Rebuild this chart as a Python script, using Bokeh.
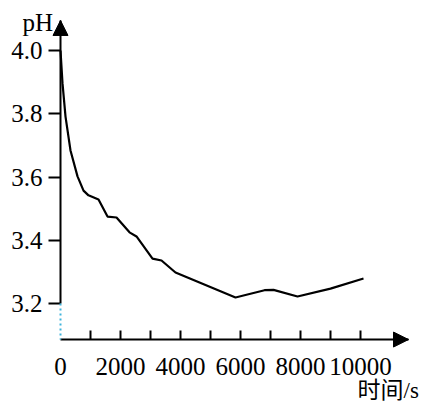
from bokeh.plotting import figure
from bokeh.models import FixedTicker, Arrow, NormalHead, Label, Range1d, LinearAxis
from bokeh.embed import file_html
from bokeh.resources import INLINE

# Data (time in s, pH)
time_s = [0, 67, 167, 333, 567, 767, 933, 1267, 1567, 1867, 2300, 2533,
          3067, 3367, 3833, 5833, 6800, 7100, 7900, 9000, 10100]
ph = [4.00, 3.896, 3.791, 3.684, 3.602, 3.557, 3.542, 3.529, 3.475, 3.472,
      3.425, 3.412, 3.342, 3.336, 3.298, 3.219, 3.242, 3.243, 3.222, 3.247, 3.279]

x_major = [0, 2000, 4000, 6000, 8000, 10000]
x_minor = [1000, 2000, 3000, 4000, 5000, 6000, 7000, 8000, 9000, 10000]
y_ticks = [3.2, 3.4, 3.6, 3.8, 4.0]
y_labels = ["3.2", "3.4", "3.6", "3.8", "4.0"]
x_label = "时间/s"
y_label = "pH"

X_VIEW = (-2000, 12333)
Y_VIEW = (2.8838, 4.1581)
X_AXIS_END = 11600
Y_AXIS_START = 3.086
Y_AXIS_END = 4.095

SERIF = "Liberation Serif"

p = figure(width=430, height=403, output_backend="svg", toolbar_location=None,
           x_range=Range1d(*X_VIEW), y_range=Range1d(*Y_VIEW),
           x_axis_location=None, y_axis_location=None,
           min_border_left=0, min_border_right=0, min_border_top=0,
           min_border_bottom=0)
p.outline_line_color = None
p.xgrid.visible = False
p.ygrid.visible = False
p.background_fill_color = "white"
p.border_fill_color = "white"

xa = LinearAxis(fixed_location=Y_AXIS_START, bounds=(0, X_AXIS_END))
xa.ticker = FixedTicker(ticks=x_major, minor_ticks=x_minor)
xa.major_tick_in = 0
xa.major_tick_out = 0
xa.minor_tick_in = 9
xa.minor_tick_out = 0
xa.minor_tick_line_width = 2
xa.minor_tick_line_color = "black"
xa.axis_line_width = 2
xa.axis_line_color = "black"
xa.major_label_text_font = SERIF
xa.major_label_text_font_size = "25px"
xa.major_label_text_color = "black"
xa.major_label_standoff = 18
xa.major_label_overrides = {v: str(v) for v in x_major}
p.add_layout(xa, "below")

ya = LinearAxis(fixed_location=0, bounds=(y_ticks[0], Y_AXIS_END))
ya.ticker = FixedTicker(ticks=y_ticks, minor_ticks=[])
ya.major_tick_in = 0
ya.major_tick_out = 12
ya.major_tick_line_width = 2
ya.major_tick_line_color = "black"
ya.axis_line_width = 2
ya.axis_line_color = "black"
ya.major_label_text_font = SERIF
ya.major_label_text_font_size = "25px"
ya.major_label_text_color = "black"
ya.major_label_standoff = 6
ya.major_label_overrides = {t: l for t, l in zip(y_ticks, y_labels)}
p.add_layout(ya, "left")

p.line(time_s, ph, line_color="black", line_width=2.2)

p.add_layout(Arrow(x_start=0, y_start=y_ticks[0], x_end=0, y_end=Y_AXIS_START, end=None,
                   line_color="#3fb4dc", line_width=2, line_dash="2 3"))
p.add_layout(Arrow(x_start=X_AXIS_END - 300, y_start=Y_AXIS_START, x_end=X_AXIS_END,
                   y_end=Y_AXIS_START,
                   end=NormalHead(size=15, fill_color="black", line_color="black"),
                   line_color="black", line_width=2))
p.add_layout(Arrow(x_start=0, y_start=Y_AXIS_END - 0.02, x_end=0, y_end=Y_AXIS_END,
                   end=NormalHead(size=15, fill_color="black", line_color="black"),
                   line_color="black", line_width=2))

p.add_layout(Label(x=-1267, y=4.090, text=y_label, text_font=SERIF,
                   text_font_size="25px", text_color="black",
                   text_baseline="alphabetic", text_align="left"))
p.add_layout(Label(x=9900, y=2.925, text=x_label,
                   text_font="Liberation Serif, Noto Sans CJK SC",
                   text_font_size="23px", text_color="black",
                   text_baseline="alphabetic", text_align="left"))

open("out.html", "w").write(file_html(p, INLINE))
